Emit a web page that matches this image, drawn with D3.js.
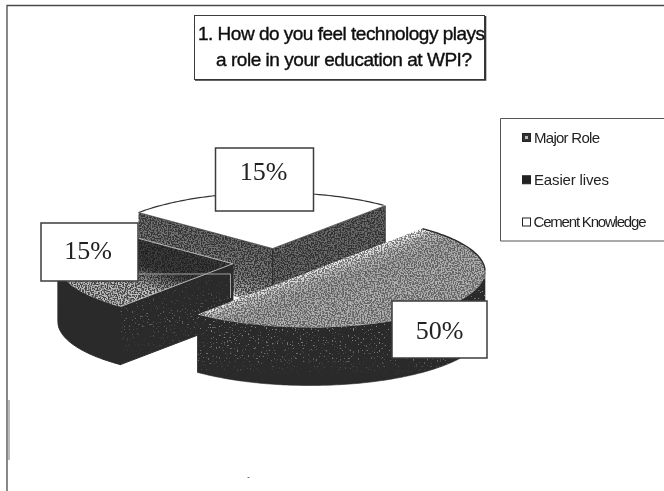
<!DOCTYPE html>
<html><head><meta charset="utf-8">
<script src="https://cdnjs.cloudflare.com/ajax/libs/d3/7.8.5/d3.min.js"></script>
<style>html,body{margin:0;padding:0;background:#fff}svg{display:block}</style>
</head><body><svg id="c" width="664" height="491"></svg>
<script>
// Data
const categories = ["Major Role", "Easier lives", "Cement Knowledge"];
const drawnShares = [50, 25, 25];            // angular share as drawn in the picture
const sliceLabels = ["50%", "15%", "15%"];   // printed labels
const titleLines = ["1. How do you feel technology plays", "a role in your education at WPI?"];

// Layout
const W = 664, H = 491;
const center = {x: 276.5, y: 262.5}, rx = 175, ry = 56, depth = 58, explode = 0.25;
const firstAngle = 40 * Math.PI / 180;

const svg = d3.select("#c");
const defs = svg.append("defs");

// grain textures: a noise field thresholded to a mask
function grainMask(id, freq, gain, offset, seed) {
  const f = defs.append("filter").attr("id", id + "F").attr("filterUnits", "userSpaceOnUse")
    .attr("x", 0).attr("y", 0).attr("width", W).attr("height", H)
    .attr("color-interpolation-filters", "sRGB");
  f.append("feTurbulence").attr("type", "fractalNoise").attr("baseFrequency", freq).attr("numOctaves", 1).attr("seed", seed).attr("result", "n");
  f.append("feColorMatrix").attr("in", "n").attr("type", "matrix")
    .attr("values", `0 0 0 0 1  0 0 0 0 1  0 0 0 0 1  ${gain} 0 0 0 ${offset}`);
  const m = defs.append("mask").attr("id", id).attr("maskUnits", "userSpaceOnUse")
    .attr("x", 0).attr("y", 0).attr("width", W).attr("height", H);
  m.append("rect").attr("width", W).attr("height", H).attr("fill", "#fff").attr("filter", `url(#${id}F)`);
}
grainMask("dense", 0.7, 7, -3.0, 3);
grainMask("sparse", 0.62, 12, -7.6, 7);
defs.append("filter").attr("id", "soft").append("feGaussianBlur").attr("stdDeviation", 0.4);
defs.append("filter").attr("id", "softText").append("feGaussianBlur").attr("stdDeviation", 0.35);

function grad(id, x1, y1, x2, y2, stops) {
  const g = defs.append("linearGradient").attr("id", id).attr("gradientUnits", "userSpaceOnUse")
    .attr("x1", x1).attr("y1", y1).attr("x2", x2).attr("y2", y2);
  stops.forEach(s => g.append("stop").attr("offset", s[0]).attr("stop-color", s[1]).attr("stop-opacity", s[2] === undefined ? 1 : s[2]));
  return `url(#${id})`;
}

// Pie geometry from d3.pie, flattened by the tilt
const pie = d3.pie().sort(null).value(d => d).startAngle(firstAngle).endAngle(firstAngle + 2 * Math.PI);
const arcs = pie(drawnShares);
const sx = d3.scaleLinear().domain([-1, 1]).range([-rx, rx]);
const sy = d3.scaleLinear().domain([-1, 1]).range([-ry, ry]);
const ln = d3.line();

function apex(a) {
  const m = (a.startAngle + a.endAngle) / 2;
  return [center.x + explode * sx(Math.sin(m)), center.y + explode * sy(-Math.cos(m))];
}
function rim(a, t, dz) {
  const c = apex(a);
  return [c[0] + sx(Math.sin(t)), c[1] + sy(-Math.cos(t)) + (dz || 0)];
}
function chordWall(a, t) {
  const c = apex(a), e = rim(a, t);
  return ln([c, e, [e[0], e[1] + depth], [c[0], c[1] + depth]]) + "Z";
}
function outerWall(a) {
  const lo = Math.max(a.startAngle, Math.PI / 2), hi = Math.min(a.endAngle, 3 * Math.PI / 2);
  if (hi <= lo) return null;
  const ts = d3.range(lo, hi, 0.02).concat(hi);
  return ln(ts.map(t => rim(a, t)).concat(ts.slice().reverse().map(t => rim(a, t, depth)))) + "Z";
}
function topFace(a) {
  const ts = d3.range(a.startAngle, a.endAngle, 0.02).concat(a.endAngle);
  return ln([apex(a)].concat(ts.map(t => rim(a, t)))) + "Z";
}
const pieG = svg.append("g").attr("filter", "url(#soft)");
function shape(d, fill, maskId, opacity) {
  const g = pieG.append("g");
  if (maskId) g.attr("mask", `url(#${maskId})`);
  return g.append("path").attr("d", d).attr("fill", fill).attr("opacity", opacity === undefined ? 1 : opacity);
}
const [big, left, back] = arcs;

// ---- back slice (white top, textured walls)
const bA = apex(back), bS = rim(back, back.startAngle), bE = rim(back, back.endAngle);
const w0 = chordWall(back, back.startAngle), w1 = chordWall(back, back.endAngle);
shape(w0, grad("bw0", bA[0] - 10, bA[1] - 4, bA[0] - 26, bA[1] + 50, [[0, "#6c6c6c"], [.6, "#7a7a7a"], [.85, "#9c9c9c"], [1, "#d0d0d0"]]));
shape(w1, "#6a6a6a");
shape(w0, "#202020", "dense", .75);
shape(w1, "#202020", "dense", .75);
pieG.append("line").attr("x1", bA[0]).attr("y1", bA[1]).attr("x2", bA[0]).attr("y2", bA[1] + depth).attr("stroke", "#222").attr("stroke-width", 1);
pieG.append("line").attr("x1", bE[0]).attr("y1", bE[1]).attr("x2", bE[0]).attr("y2", bE[1] + depth).attr("stroke", "#333").attr("stroke-width", 1);
shape(topFace(back), "#fff");
pieG.append("path").attr("d", ln(d3.range(back.startAngle, back.endAngle, 0.02).map(t => rim(back, t)))).attr("fill", "none").attr("stroke", "#333").attr("stroke-width", 1.2);
pieG.append("path").attr("d", ln([bS, bA, bE])).attr("fill", "none").attr("stroke", "#444").attr("stroke-width", .8);

// ---- left slice (dark walls, dither top)
const lA = apex(left), lS = rim(left, left.startAngle), lE = rim(left, left.endAngle);
const lf = chordWall(left, left.startAngle), lw = outerWall(left);
shape(lf, "#2a2a2a").attr("stroke", "#2a2a2a").attr("stroke-width", 1);
shape(lw, "#2a2a2a").attr("stroke", "#2a2a2a").attr("stroke-width", 1);
const lTop = topFace(left);
const lTopFill = grad("lt", lA[0] - 36, lA[1] - 12, lA[0] - 52, lA[1] + 42, [[0, "#3c3c3c"], [.5, "#3e3e3e"], [.68, "#7c7c7c"], [.9, "#bdbdbd"], [1, "#bdbdbd"]]);
shape(lTop, lTopFill);
shape(lTop, "#161616", "dense", .7);
pieG.append("path").attr("d", ln([lE, lA])).attr("stroke", "#d8d8d8").attr("stroke-width", .8).attr("fill", "none");
pieG.append("path").attr("d", ln([lS, lA])).attr("stroke", "#c4c4c4").attr("stroke-width", .9).attr("fill", "none");
// specks on the left wall
const speckL = grad("sl", 0, lA[1] + 22, 0, lS[1] + depth - 6, [[0, "#888", .25], [.45, "#999", .6], [1, "#999", 0]]);
shape(lf, speckL, "sparse");
// faint box outline left on the wall
pieG.append("path").attr("d", ln([[138, 274], [230.5, 274], [230.5, 298]])).attr("fill", "none").attr("stroke", "#a0a0a0").attr("stroke-width", 1);

// ---- big slice
const gA = apex(big);
const bw = outerWall(big);
shape(chordWall(big, big.endAngle), "#2a2a2a");
shape(bw, "#2a2a2a").attr("stroke", "#2a2a2a").attr("stroke-width", .6);
shape(bw, grad("bs", 0, gA[1] + 38, 0, gA[1] + 105, [[0, "#a0a0a0", .9], [.75, "#8c8c8c", .7], [1, "#8c8c8c", 0]]), "sparse");
const nx = gA[0] + 30, ny = gA[1] - 11;
const bigFace = topFace(big);
shape(bigFace, grad("gt", nx, ny, nx + 14, ny + 38, [[0, "#f4f4f4"], [.2, "#bdbdbd"], [.5, "#a8a8a8"], [1, "#b0b0b0"]]));
shape(bigFace, "#3a3a3a", "dense", .65);
pieG.append("path").attr("d", ln(d3.range(big.startAngle, Math.PI / 2, 0.02).map(t => rim(big, t))))
  .attr("fill", "none").attr("stroke", "#2a2a2a").attr("stroke-width", 1.4);

// ---- frame
const frame = svg.append("g").attr("fill", "none");
frame.append("path").attr("d", ln([[7, H], [7, 5.5], [W, 5.5]])).attr("stroke", "#4a4a4a").attr("stroke-width", 1.3);
svg.append("rect").attr("x", 8).attr("y", 400).attr("width", 2).attr("height", 60).attr("fill", "#bbb");
svg.append("rect").attr("x", 247.5).attr("y", 477).attr("width", 2).attr("height", 1).attr("fill", "#777");

// ---- boxes
function box(x, y, w, h, sw) {
  svg.append("rect").attr("x", x).attr("y", y).attr("width", w).attr("height", h)
    .attr("fill", "#fff").attr("stroke", "#3c3c3c").attr("stroke-width", sw);
}
const sans = "'Liberation Sans', Arial, sans-serif", serif = "'Liberation Serif', 'Times New Roman', serif";

// title
box(194.5, 15.5, 290, 64, 1);
svg.append("path").attr("d", ln([[195, 80], [485.5, 80], [485.5, 16]])).attr("fill", "none").attr("stroke", "#333").attr("stroke-width", 1.6);
const titleG = svg.append("g").attr("filter", "url(#softText)");
const titleX = [198, 216], titleY = [39.5, 66], titleLen = [287, 256];
titleG.selectAll("text").data(titleLines).join("text")
  .attr("x", (d, i) => titleX[i]).attr("y", (d, i) => titleY[i])
  .attr("textLength", (d, i) => titleLen[i]).attr("lengthAdjust", "spacing")
  .attr("font-family", sans).attr("font-size", 19).attr("fill", "#111")
  .attr("stroke", "#111").attr("stroke-width", 0.4).text(d => d);

// data labels
const labelBoxes = [[392, 301, 95, 57], [41, 223, 97, 58], [215.5, 148, 98, 63]];
const labelText = [[439.5, 339], [88, 259], [263.5, 180]];
arcs.forEach((a, i) => {
  const b = labelBoxes[i];
  box(b[0], b[1], b[2], b[3], 1.5);
  svg.append("text").attr("x", labelText[i][0]).attr("y", labelText[i][1]).attr("text-anchor", "middle")
    .attr("font-family", serif).attr("font-size", 26).attr("fill", "#222").attr("filter", "url(#softText)")
    .text(sliceLabels[i]);
});

// legend
svg.append("path").attr("d", ln([[W, 118.5], [500.5, 118.5], [500.5, 241], [W, 241]])).attr("fill", "none").attr("stroke", "#555").attr("stroke-width", 1);
const legendY = d3.scalePoint().domain(categories).range([137.5, 222]);
const legendLen = [66, 75, 113];
const lg = svg.append("g").selectAll("g").data(categories).join("g")
  .attr("transform", d => `translate(0,${legendY(d)})`);
lg.append("rect").attr("x", 522.5).attr("y", -4).attr("width", 8).attr("height", 8)
  .attr("fill", (d, i) => ["#333", "#222", "#fff"][i]).attr("stroke", "#222").attr("stroke-width", 1);
lg.filter((d, i) => i === 0).append("rect").attr("x", 525).attr("y", -1.5).attr("width", 3).attr("height", 3).attr("fill", "#bbb");
lg.append("text").attr("x", (d, i) => i === 2 ? 533.5 : 534).attr("y", 5)
  .attr("textLength", (d, i) => legendLen[i]).attr("lengthAdjust", "spacing")
  .attr("font-family", sans).attr("font-size", 15).attr("fill", "#222").attr("filter", "url(#softText)")
  .text(d => d);
</script></body></html>
